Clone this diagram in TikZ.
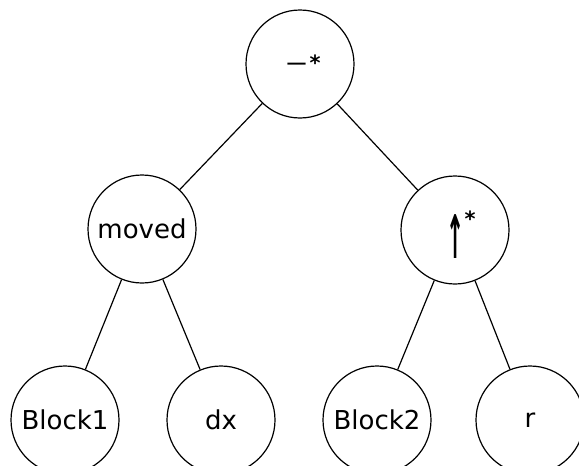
\documentclass[tikz,border=0pt]{standalone}
\usepackage{graphicx}
\usepackage{fontspec}
\setmainfont{DejaVu Sans}
\begin{document}
\begin{tikzpicture}[x=1pt,y=-1pt,
  tn/.style={circle,draw,line width=1.2pt,minimum size=108pt,inner sep=0pt,font=\fontsize{26}{30}\selectfont},
  edge/.style={line width=1.2pt},
  lab/.style={inner sep=0pt}]
\useasboundingbox (0,0) rectangle (579,466);
\clip (0,0) rectangle (579,466);
\node[tn] (root) at (300,64) {};
\node[tn] (moved) at (142,229) {moved};
\node[tn] (up) at (455,230) {};
\node[tn] (b1) at (65,420) {Block1};
\node[tn] (dx) at (221,420) {dx};
\node[tn] (b2) at (377,420) {Block2};
\node[tn] (r) at (530,420) {r};
% labels
\node[lab,anchor=base,font=\fontsize{28}{28}\selectfont] (us) at (296.5,58.5) {\scalebox{1.25}[1]{\_}};
\node[lab,anchor=base,font=\bfseries\fontsize{21}{21}\selectfont] (st1) at (315,70) {*};
\node[lab,font=\bfseries\fontsize{24}{24}\selectfont] (arr) at (456,236.5) {\scalebox{0.9}[2.5]{↑}};
\node[lab,anchor=base,font=\bfseries\fontsize{21}{21}\selectfont] (st2) at (470,226) {*};
% edges
\draw[edge] (root) -- (moved);
\draw[edge] (root) -- (up);
\draw[edge] (moved) -- (b1);
\draw[edge] (moved) -- (dx);
\draw[edge] (up) -- (b2);
\draw[edge] (up) -- (r);
\end{tikzpicture}
\end{document}
